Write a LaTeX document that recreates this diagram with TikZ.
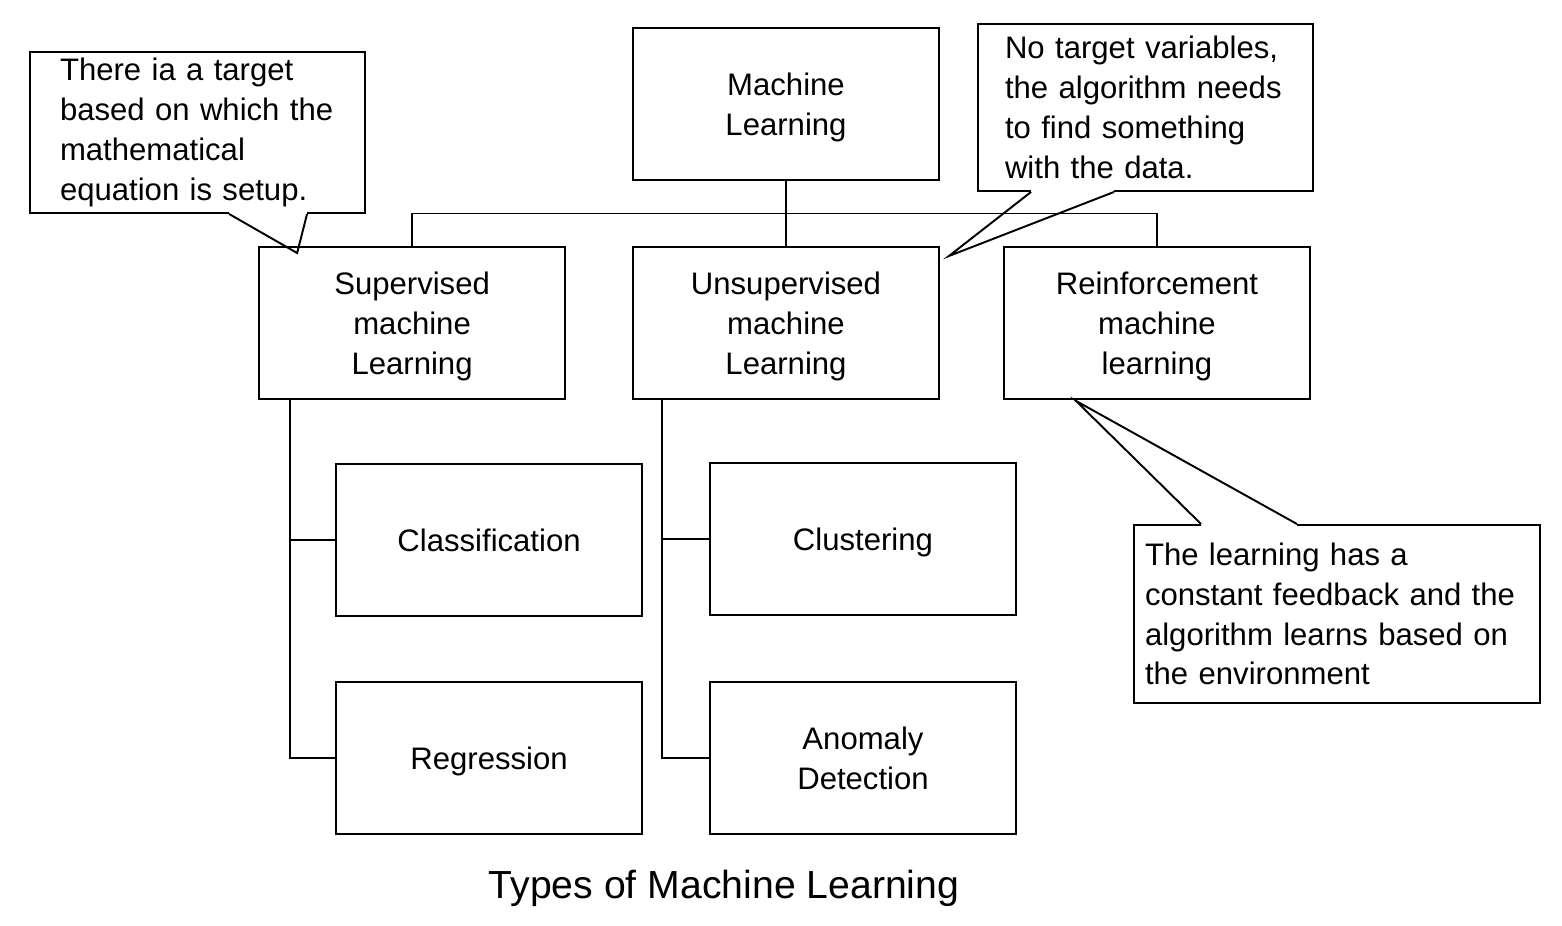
\documentclass[tikz,border=0pt]{standalone}
\usepackage{fontspec}
\setmainfont{Liberation Sans}
\usetikzlibrary{calc}

\begin{document}
\begin{tikzpicture}[x=0.02cm,y=-0.02cm,line width=1.1pt,
                    font=\fontsize{17.7}{22.7}\selectfont]
  \tikzstyle{box}=[draw=black,minimum width=6.12cm,minimum height=3.04cm,align=center,inner sep=0pt,text depth=0pt]
  \tikzstyle{note}=[draw=black,align=left,inner ysep=0pt]

  \useasboundingbox (0,0) rectangle (1562,926);

  \node[box] (ml)    at (786,104)                            {Machine\\Learning};
  \node[box] (unsup) [below of=ml,node distance=4.38cm]     {Unsupervised\\machine\\Learning};
  \node[box] (sup)   [left of=unsup,node distance=7.48cm]   {Supervised\\machine\\Learning};
  \node[box] (rein)  [right of=unsup,node distance=7.42cm]  {Reinforcement\\machine\\learning};

  \node[box] (cls)  [below of=sup,node distance=4.34cm,xshift=1.54cm]   {Classification};
  \node[box] (reg)  [below of=cls,node distance=4.37cm]                 {Regression};
  \node[box] (clu)  [below of=unsup,node distance=4.32cm,xshift=1.54cm] {Clustering};
  \node[box] (anom) [below of=clu,node distance=4.38cm]                 {Anomaly\\Detection};

  \node[note,text width=5.5cm,inner xsep=0.6cm,minimum height=3.22cm]   (noteA) at (197.5,132.5)
       {There ia a target\\based on which the\\mathematical\\equation is setup.};
  \node[note,text width=5.62cm,inner xsep=0.54cm,minimum height=3.34cm] (noteB) at (1145.5,107.5)
       {No target variables,\\the algorithm needs\\to find something\\with the data.};
  \node[note,text width=7.68cm,inner xsep=0.22cm,minimum height=3.56cm] (noteC) at (1337,614)
       {The learning has a\\constant feedback and the\\algorithm learns based on\\the environment};

  \node[font=\fontsize{22.3}{27}\selectfont,text depth=0pt] (title) at (724,884) {Types of Machine Learning};

  % tree
  \coordinate (bus) at ($(ml.south)!0.5!(unsup.north)$);
  \draw (ml.south) -- (unsup.north);
  \draw (sup.north) |- (bus) -| (rein.north);
  \draw ($(sup.south west)+(32,0)$) |- (cls.west)
        ($(sup.south west)+(32,0)$) |- (reg.west);
  \draw ($(unsup.south west)+(30,0)$) |- (clu.west)
        ($(unsup.south west)+(30,0)$) |- (anom.west);

  % callout pointers
  \coordinate (tipA) at ($(sup.north west)+(39,7)$);
  \coordinate (tipB) at ($(unsup.north east)+(9,10)$);
  \coordinate (tipC) at ($(rein.south west)+(73,1)$);

  \fill[white] ($(noteA.south west)+(200,-1.5)$) rectangle ($(noteA.south west)+(278,1.5)$);
  \draw ($(noteA.south west)+(200,0)$) -- (tipA) -- ($(noteA.south west)+(278,0)$);
  \fill[white] ($(noteB.south west)+(54,-1.5)$) rectangle ($(noteB.south west)+(137,1.5)$);
  \draw ($(noteB.south west)+(54,0)$) -- (tipB) -- ($(noteB.south west)+(137,0)$);
  \fill[white] ($(noteC.north west)+(68,-1.5)$) rectangle ($(noteC.north west)+(164,1.5)$);
  \draw ($(noteC.north west)+(68,0)$) -- (tipC) -- ($(noteC.north west)+(164,0)$);
\end{tikzpicture}
\end{document}
